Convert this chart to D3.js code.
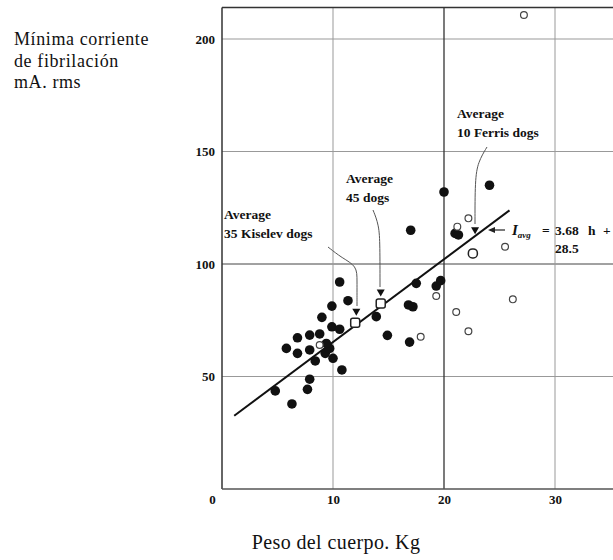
<!DOCTYPE html>
<html>
<head>
<meta charset="utf-8">
<script src="https://cdn.jsdelivr.net/npm/d3@7"></script>
<style>
  body { margin: 0; background: #fff; }
  svg { display: block; }
  text { font-family: "Liberation Serif", "DejaVu Serif", serif; fill: #111; }
</style>
</head>
<body>
<div id="chart"></div>
<script>
// weights (kg) and minimum fibrillation current (mA rms)
var filledX = [10.6, 11.35, 9.9, 9.0, 9.9, 10.6, 7.9, 8.8, 6.8, 5.8, 6.8, 7.9, 8.4, 9.3, 9.7, 10.0, 9.4, 10.8, 7.9, 7.7, 4.8, 6.3, 13.9, 14.9, 16.8, 16.9, 17.5, 19.3, 19.7, 17.2, 20.0, 24.1, 17.0, 21.0, 21.3];
var filledY = [92, 83.7, 81.3, 76.3, 72.1, 71, 68.4, 68.9, 67.2, 62.5, 60.3, 61.8, 56.9, 60.3, 62.5, 58.1, 64.7, 52.9, 48.8, 44.3, 43.6, 37.8, 76.6, 68.3, 81.8, 65.3, 91.4, 90.2, 92.6, 81, 132, 135, 115, 113.6, 112.9];

var openX = [19.3, 17.9, 21.1, 22.2, 26.2, 21.2, 22.2, 25.5, 27.2, 8.8];
var openY = [85.8, 67.7, 78.7, 70.1, 84.3, 116.6, 120.3, 107.7, 210.7, 64];

// group averages: open marker on the line, triangle pointer above
var avgNames = ["Kiselev", "45 dogs", "Ferris"];
var avgX = [12.0, 14.3, 22.6];
var avgY = [73.9, 82.5, 104.7];
var triX = [12.1, 14.3, 22.8];
var triY = [78.8, 87.3, 115];

// I_avg = 3.68 h + 28.5
var slope = 3.68, intercept = 28.5;
var lineFrom = 1.1, lineTo = 25.9;

var xTicks = [0, 10, 20, 30];
var yTicks = [50, 100, 150, 200];
var xGrid = [10, 20, 30];
var yGrid = [50, 100, 150, 200];

var width = 613, height = 560;
var svg = d3.select("#chart").append("svg")
    .attr("width", width)
    .attr("height", height);

var x = d3.scaleLinear().domain([0, 36]).range([222, 621.6]);
var y = d3.scaleLinear().domain([0, 214]).range([489, 7.5]);

// grid
svg.selectAll(".hgrid")
    .data(yGrid)
    .enter()
    .append("line")
    .attr("x1", x(0)).attr("x2", x(36))
    .attr("y1", function(d) { return y(d); })
    .attr("y2", function(d) { return y(d); })
    .attr("stroke", function(d) { return d == 100 ? "#444" : "#999"; })
    .attr("stroke-width", 1);

svg.selectAll(".vgrid")
    .data(xGrid)
    .enter()
    .append("line")
    .attr("y1", y(0)).attr("y2", y(214))
    .attr("x1", function(d) { return x(d); })
    .attr("x2", function(d) { return x(d); })
    .attr("stroke", function(d) { return d == 20 ? "#333" : "#999"; })
    .attr("stroke-width", function(d) { return d == 20 ? 1.3 : 1; });

// frame
svg.append("line").attr("x1", x(0)).attr("x2", x(0)).attr("y1", y(0)).attr("y2", y(214))
    .attr("stroke", "#333").attr("stroke-width", 1.5);
svg.append("line").attr("x1", x(0)).attr("x2", x(36)).attr("y1", y(214)).attr("y2", y(214))
    .attr("stroke", "#333").attr("stroke-width", 1.5);
svg.append("line").attr("x1", x(0)).attr("x2", x(36)).attr("y1", y(0)).attr("y2", y(0))
    .attr("stroke", "#555").attr("stroke-width", 1.3);

// axes (labels only, lines are the frame)
var xAxis = svg.append("g")
    .attr("transform", "translate(0," + y(0) + ")")
    .call(d3.axisBottom(x).tickValues(xTicks).tickSize(0).tickPadding(6));
xAxis.select(".domain").remove();
xAxis.selectAll("text")
    .style("font-family", "Liberation Serif, serif")
    .style("font-size", "13px")
    .style("font-weight", "bold")
    .attr("fill", "#222")
    .attr("dx", function(d) { return d == 0 ? "-10px" : "0"; });

var yAxis = svg.append("g")
    .attr("transform", "translate(" + x(0) + ",0)")
    .call(d3.axisLeft(y).tickValues(yTicks).tickSize(0).tickPadding(7));
yAxis.select(".domain").remove();
yAxis.selectAll("text")
    .style("font-family", "Liberation Serif, serif")
    .style("font-size", "13px")
    .style("font-weight", "bold")
    .attr("fill", "#222");

// regression line
svg.append("line")
    .attr("x1", x(lineFrom)).attr("y1", y(slope * lineFrom + intercept))
    .attr("x2", x(lineTo)).attr("y2", y(slope * lineTo + intercept))
    .attr("stroke", "#111").attr("stroke-width", 2);

// leader lines to the averages
var line = d3.line().curve(d3.curveBasis);
var leaders = [
    [[328, 247], [342, 258], [357, 266], [357, 280], [357, 306]],
    [[373, 210], [379, 225], [380, 245], [380, 287]],
    [[487, 147], [478, 162], [475, 180], [475, 224]]
];
svg.selectAll(".leader")
    .data(leaders)
    .enter()
    .append("path")
    .attr("d", function(d) { return line(d); })
    .attr("fill", "none")
    .attr("stroke", "#555")
    .attr("stroke-width", 1);

// data points
var filled = filledX.map(function(v, i) { return [v, filledY[i]]; });
svg.selectAll(".dog")
    .data(filled)
    .enter()
    .append("circle")
    .attr("cx", function(d) { return x(d[0]); })
    .attr("cy", function(d) { return y(d[1]); })
    .attr("r", 4.8)
    .attr("fill", "#111");

var open = openX.map(function(v, i) { return [v, openY[i]]; });
svg.selectAll(".odog")
    .data(open)
    .enter()
    .append("circle")
    .attr("cx", function(d) { return x(d[0]); })
    .attr("cy", function(d) { return y(d[1]); })
    .attr("r", 3.4)
    .attr("fill", "#fff")
    .attr("stroke", "#444")
    .attr("stroke-width", 1.2);

// average markers
svg.selectAll(".avg")
    .data(avgX)
    .enter()
    .append("rect")
    .attr("x", function(d) { return x(d) - 4.5; })
    .attr("y", function(d, i) { return y(avgY[i]) - 4.5; })
    .attr("width", 9).attr("height", 9)
    .attr("rx", function(d, i) { return i == 2 ? 4 : 2; })
    .attr("fill", "#fff")
    .attr("stroke", "#222")
    .attr("stroke-width", 1.5);

svg.selectAll(".tri")
    .data(triX)
    .enter()
    .append("path")
    .attr("d", function(d, i) {
        var cx = x(d), cy = y(triY[i]);
        return "M" + (cx - 4) + "," + (cy - 3) + "L" + (cx + 4) + "," + (cy - 3) + "L" + cx + "," + (cy + 4) + "Z";
    })
    .attr("fill", "#111");

// annotations
function label(lines, px, py, size) {
    var t = svg.append("text").attr("x", px).attr("y", py).style("font-size", size + "px").style("font-weight", "bold");
    lines.forEach(function(s, i) {
        t.append("tspan").attr("x", px).attr("dy", i == 0 ? 0 : size * 1.4).text(s);
    });
}
label(["Average", "35 Kiselev dogs"], 224, 219, 13.5);
label(["Average", "45 dogs"], 346, 183, 13.5);
label(["Average", "10 Ferris dogs"], 457, 118, 13.5);

// I_avg arrow and formula
svg.append("line").attr("x1", 505).attr("y1", 230).attr("x2", 492).attr("y2", 230)
    .attr("stroke", "#222").attr("stroke-width", 1.2);
svg.append("path").attr("d", "M488,230L495,227L495,233Z").attr("fill", "#222");
var f = svg.append("text").attr("y", 235).style("font-size", "13.5px").style("font-weight", "bold");
f.append("tspan").attr("x", 512).style("font-style", "italic").style("font-size", "15px").text("I");
f.append("tspan").attr("dy", 3).style("font-size", "9px").style("font-style", "italic").text("avg");
f.append("tspan").attr("x", 542).attr("dy", -3).text("=");
f.append("tspan").attr("x", 555).text("3.68");
f.append("tspan").attr("x", 588).text("h");
f.append("tspan").attr("x", 603).text("+");
svg.append("text").attr("x", 555).attr("y", 253).style("font-size", "13.5px").style("font-weight", "bold").text("28.5");

// axis titles
var yt = svg.append("text").attr("x", 14).attr("y", 45).style("font-size", "18px").style("letter-spacing", "0.6px");
yt.append("tspan").attr("x", 14).text("Mínima corriente");
yt.append("tspan").attr("x", 14).attr("dy", 21.5).text("de fibrilación");
yt.append("tspan").attr("x", 14).attr("dy", 21.5).text("mA. rms");

svg.append("text").attr("x", 336).attr("y", 549).attr("text-anchor", "middle")
    .style("font-size", "20px").style("letter-spacing", "0.4px").text("Peso del cuerpo. Kg");
</script>
</body>
</html>
